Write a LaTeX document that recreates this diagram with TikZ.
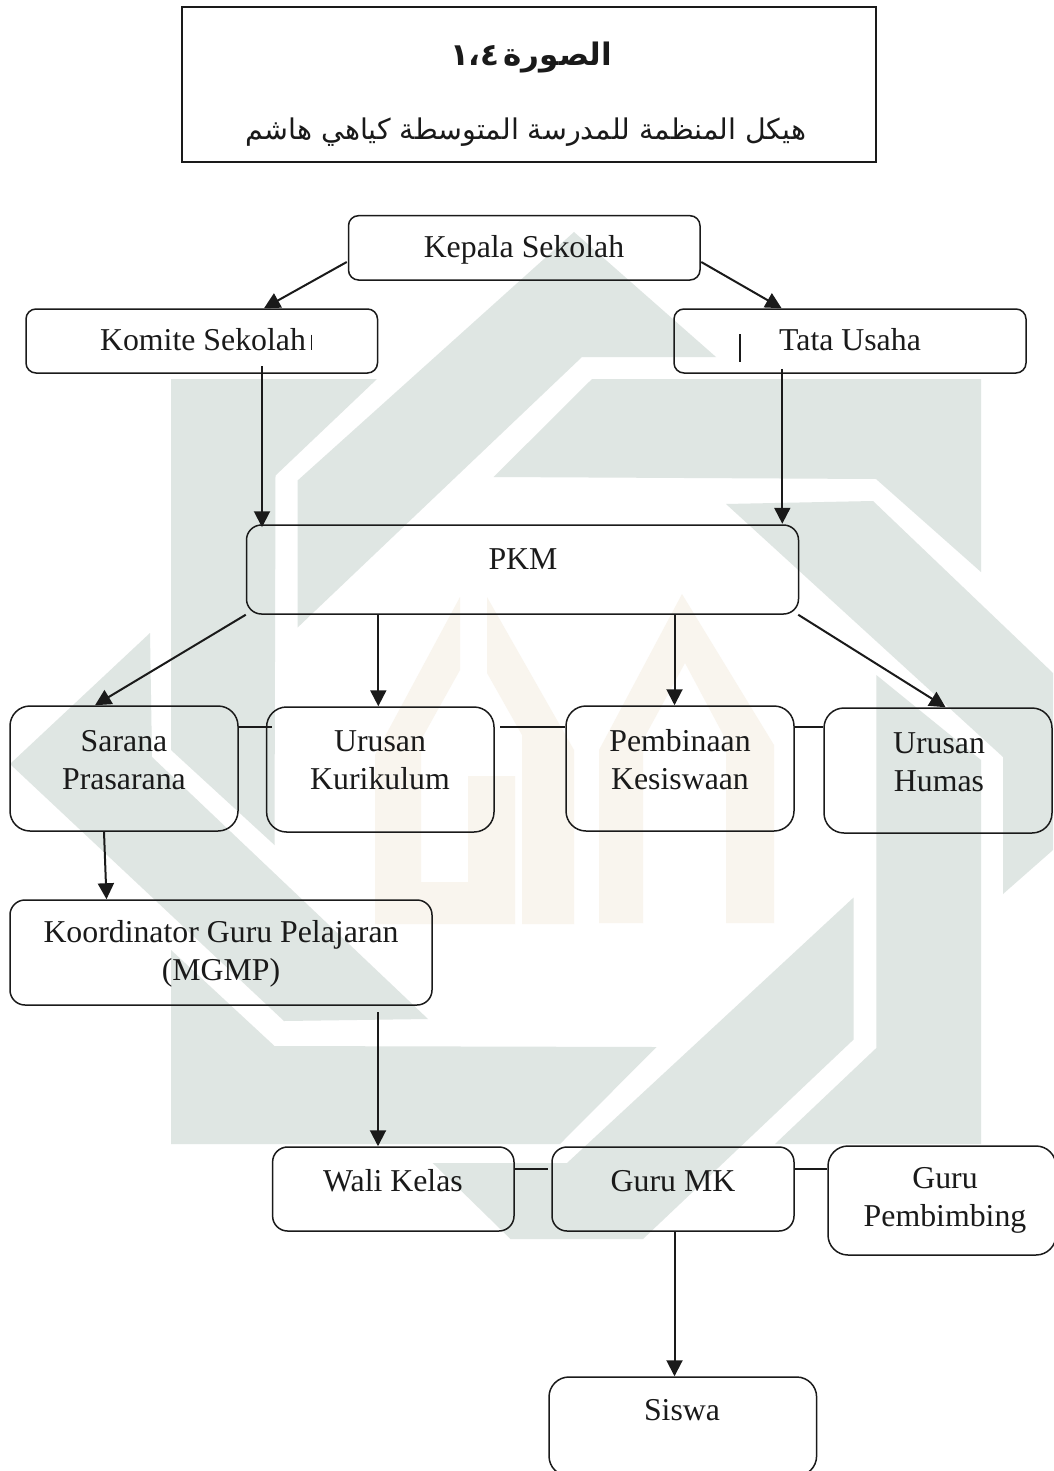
\documentclass[tikz,border=0pt]{standalone}
\usepackage{fontspec}
\usetikzlibrary{arrows.meta}
\setmainfont{Liberation Serif}
\newfontfamily\arabicfont[Script=Arabic]{DejaVu Sans}
\TeXXeTstate=1
\definecolor{wmgray}{HTML}{DFE6E3}
\definecolor{wmgold}{HTML}{F9F5EE}
\definecolor{inkc}{HTML}{1A1A1A}
\tikzset{
  boxn/.style={draw=inkc,line width=1.5pt,inner sep=0pt,rectangle},
  smallbox/.style={boxn,rounded corners=10pt},
  midbox/.style={boxn,rounded corners=15pt},
  bigbox/.style={boxn,rounded corners=20pt},
  lbl/.style={anchor=base,inner sep=0pt,text=inkc,align=center,font=\fontsize{31.8}{37.5}\selectfont},
  arr/.style={draw=inkc,line width=2pt,-{Triangle[length=16pt,width=16pt]}},
  link/.style={draw=inkc,line width=1.8pt},
  gp/.style={fill=wmgray,draw=none},
  yp/.style={fill=wmgold,draw=none}
}
\begin{document}
\begin{tikzpicture}[x=1pt,y=-1pt]
\useasboundingbox (0,0) rectangle (1053,1471);
\fill[white] (0,0) rectangle (1053,1471);
% watermark
\fill[gp] (171,379)--(377,379)--(275.5,475.5)--(274.5,845)--(171,750)--cycle;
\fill[gp] (150,633)--(152,757)--(428,1019)--(284,1021)--(10,764)--cycle;
\fill[gp] (171,950)--(274.5,1046)--(656.5,1047)--(560,1144)--(171,1144)--cycle;
\fill[gp] (853.6,897.5)--(853.6,1039.5)--(643,1239)--(510.5,1239)--(432.7,1163)--(567,1163)--cycle;
\fill[gp] (876.3,675)--(981,760)--(981,1144)--(775,1144)--(876.3,1048)--cycle;
\fill[gp] (726,504)--(873,501)--(1053,673)--(1053,850)--(1003,894)--(1003,757)--cycle;
\fill[gp] (592,379)--(981,379)--(981,572)--(876,479)--(493.6,477)--cycle;
\fill[gp] (574,232)--(716,357)--(582,357)--(297.5,627.6)--(297.5,480.6)--cycle;
\fill[yp] (487,597)--(574,750)--(574,924)--(522,924)--(522,735)--(487,673)--cycle;
\fill[yp] (460,597)--(375,755)--(375,924)--(515,924)--(515,776)--(468,776)--(468,882)--(421,882)--(421,740)--(460,670)--cycle;
\fill[yp] (682,594)--(599,750)--(599,923)--(643,923)--(643,740)--(685,663)--(726,740)--(726,923)--(774,923)--(774,745)--cycle;
% title
\node[draw=inkc,line width=2pt,rectangle,inner sep=0pt,minimum width=694pt,minimum height=155pt] (titlebox) at (529,84.5) {};
\node[inner sep=0pt,text=inkc] (title1) at (531,58) {\arabicfont\bfseries\fontsize{31}{40}\selectfont\beginR الصورة\kern4pt ١،٤\endR};
\node[inner sep=0pt,text=inkc] (title2) at (526,132) {\arabicfont\fontsize{28.5}{36}\selectfont\beginR هيكل المنظمة للمدرسة المتوسطة كياهي هاشم\endR};
% boxes
\node[smallbox,minimum width=351.5pt,minimum height=64.3pt] (kepala) at (524.25,247.85) {};
\node[smallbox,minimum width=351.5pt,minimum height=64pt] (komite) at (201.75,341) {};
\node[smallbox,minimum width=352pt,minimum height=64pt] (tata) at (850,341) {};
\node[midbox,minimum width=552pt,minimum height=89pt] (pkm) at (522.5,569.5) {};
\node[bigbox,minimum width=228pt,minimum height=125pt] (sarana) at (124,768.5) {};
\node[bigbox,minimum width=227.4pt,minimum height=125pt] (kur) at (380.3,769.5) {};
\node[bigbox,minimum width=228pt,minimum height=125pt] (pemb) at (680,768.5) {};
\node[bigbox,minimum width=228pt,minimum height=125pt] (hum) at (938,770.5) {};
\node[midbox,minimum width=422pt,minimum height=105pt] (koord) at (221,952.5) {};
\node[midbox,minimum width=241.4pt,minimum height=84pt] (wali) at (393.3,1189) {};
\node[midbox,minimum width=242pt,minimum height=84pt] (gurumk) at (673,1189) {};
\node[bigbox,minimum width=228pt,minimum height=109pt] (pemb2) at (942,1200.5) {};
\node[bigbox,minimum width=267.6pt,minimum height=99pt] (siswa) at (682.8,1426.5) {};
% labels
\node[lbl] (tkepala) at (524,258) {Kepala Sekolah};
\node[lbl] (tkomite) at (203,350.5) {Komite Sekolah};
\node[lbl] (ttata) at (850,350.5) {Tata Usaha};
\node[lbl] (tpkm) at (523,569.5) {PKM};
\node[lbl] (tsarana) at (124,789) {Sarana\\Prasarana};
\node[lbl] (tkur) at (380,789) {Urusan\\Kurikulum};
\node[lbl] (tpemb) at (680,789) {Pembinaan\\Kesiswaan};
\node[lbl] (thum) at (939,791) {Urusan\\Humas};
\node[lbl] (tkoord) at (221,980) {Koordinator Guru Pelajaran\\(MGMP)};
\node[lbl] (twali) at (393,1191.6) {Wali Kelas};
\node[lbl] (tguru) at (673,1191.6) {Guru MK};
\node[lbl] (tpemb2) at (945,1226) {Guru\\Pembimbing};
\node[lbl] (tsiswa) at (682,1420) {Siswa};
% stray marks
\draw[inkc,line width=1.2pt] (311.7,334.5)--(311.7,350);
\draw[inkc,line width=1.5pt] (740,334)--(740,361.6);
% arrows
\draw[arr] ([xshift=-1pt,yshift=-14.15pt]kepala.west) -- ([xshift=62.25pt]komite.north);
\draw[arr] ([xshift=0.5pt,yshift=-14.15pt]kepala.east) -- ([xshift=-68.4pt]tata.north);
\draw[arr] ([xshift=60.25pt,yshift=7.4pt]komite.south) -- ([xshift=-260.5pt,yshift=-3pt]pkm.north);
\draw[arr] ([xshift=-67.7pt,yshift=5pt]tata.south) -- ([xshift=259.8pt,yshift=0.5pt]pkm.north);
\draw[arr] (pkm.south west) -- ([xshift=-29pt]sarana.north);
\draw[arr] ([xshift=-144.2pt]pkm.south) -- ([xshift=-2pt]kur.north);
\draw[arr] ([xshift=152pt]pkm.south) -- ([xshift=-5.5pt]pemb.north);
\draw[arr] ([xshift=-1pt]pkm.south east) -- ([xshift=7.6pt]hum.north);
\draw[arr] ([xshift=-20pt]sarana.south) -- ([xshift=-114.5pt]koord.north);
\draw[arr] ([xshift=157pt,yshift=-6.4pt]koord.south) -- ([xshift=-15.3pt]wali.north);
\draw[arr] ([xshift=1.5pt]gurumk.south) -- ([xshift=-8.3pt]siswa.north);
% links
\draw[link] ([yshift=41.5pt]sarana.east) -- ([xshift=6.4pt,yshift=42.5pt]kur.west);
\draw[link] ([xshift=5.6pt,yshift=42.5pt]kur.east) -- ([yshift=41.5pt]pemb.west);
\draw[link] ([yshift=41.5pt]pemb.east) -- ([yshift=43.5pt]hum.west);
\draw[link] ([yshift=20pt]wali.east) -- ([xshift=-3pt,yshift=20pt]gurumk.west);
\draw[link] ([yshift=20pt]gurumk.east) -- ([yshift=31.5pt]pemb2.west);
\end{tikzpicture}
\end{document}
